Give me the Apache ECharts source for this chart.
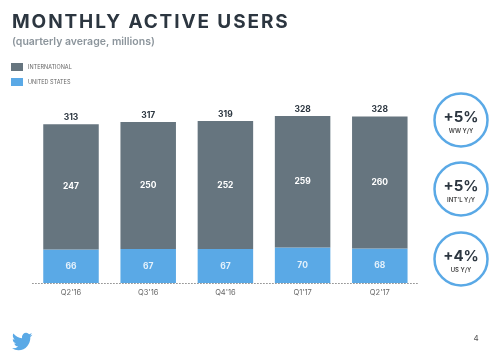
<!DOCTYPE html>
<html>
<head>
<meta charset="utf-8">
<title>Monthly Active Users</title>
<script src="https://cdn.jsdelivr.net/npm/echarts@6/dist/echarts.min.js"></script>
<style>
  html, body { margin: 0; padding: 0; background: #fff; }
  #main { position: absolute; left: 0; top: 0; width: 500px; height: 357px; }
  #head { position: absolute; left: 12px; top: 10px; font: 700 19px Inter, sans-serif; letter-spacing: 1.9px; color: #2c3640; white-space: nowrap; }
</style>
</head>
<body>
<div id="main"></div>
<div id="head">MONTHLY ACTIVE USERS</div>
<script>
const quarters = ["Q2'16", "Q3'16", "Q4'16", "Q1'17", "Q2'17"];
const international = [247, 250, 252, 259, 260];
const unitedStates = [66, 67, 67, 70, 68];
const totals = [313, 317, 319, 328, 328];
const growthValues = ['+5%', '+5%', '+4%'];
const growthLabels = ['WW Y/Y', "INT'L Y/Y", 'US Y/Y'];

const FONT = 'Inter, sans-serif';
const GREY = '#66757f';
const BLUE = '#5aa9e6';

const birdPath = 'M23.953 4.57a10 10 0 0 1-2.825.775a4.958 4.958 0 0 0 2.163-2.723c-.951.555-2.005.959-3.127 1.184a4.92 4.92 0 0 0-8.384 4.482C7.69 8.095 4.067 6.13 1.64 3.162a4.822 4.822 0 0 0-.666 2.475c0 1.71.87 3.213 2.188 4.096a4.904 4.904 0 0 1-2.228-.616v.06a4.923 4.923 0 0 0 3.946 4.827a4.996 4.996 0 0 1-2.212.085a4.936 4.936 0 0 0 4.604 3.417a9.867 9.867 0 0 1-6.102 2.105c-.39 0-.779-.023-1.17-.067a13.995 13.995 0 0 0 7.557 2.209c9.053 0 13.998-7.496 13.998-13.985c0-.21 0-.42-.015-.63A9.935 9.935 0 0 0 24 4.59z';
// graphic component has no plain path type, so register the logo as a shape
echarts.graphic.registerShape('bird', echarts.graphic.extendPath(birdPath, {}));

// circles on the right
const circleY = [120, 189, 259];
let badges = [];
circleY.forEach((y, i) => {
  badges.push({
    type: 'circle',
    shape: { cx: 461, cy: y, r: 26.5 },
    style: { fill: '#fff', stroke: BLUE, lineWidth: 2.5 }
  });
  badges.push({
    type: 'text', x: 461, y: y - 3,
    style: { text: growthValues[i], fill: '#2c3640', fontFamily: FONT, fontSize: 15, fontWeight: 700, align: 'center', verticalAlign: 'middle' }
  });
  badges.push({
    type: 'text', x: 461, y: y + 11,
    style: { text: growthLabels[i], fill: '#444', fontFamily: FONT, fontSize: 6, fontWeight: 600, align: 'center', verticalAlign: 'middle' }
  });
});

let myChart = echarts.init(document.getElementById('main'));
let option = {
  animation: false,
  backgroundColor: '#fff',
  title: {
    text: '(quarterly average, millions)',
    left: 12, top: 36, padding: 0,
    textStyle: { color: '#8c959c', fontFamily: FONT, fontSize: 10.5, fontWeight: 600 }
  },
  legend: {
    orient: 'vertical',
    left: 11, top: 63, padding: 0,
    itemWidth: 12, itemHeight: 8, itemGap: 7,
    icon: 'rect',
    data: ['INTERNATIONAL', 'UNITED STATES'],
    textStyle: { color: '#666', fontFamily: FONT, fontSize: 5.5 }
  },
  grid: { left: 32.4, width: 386, top: 80, height: 203 },
  xAxis: {
    type: 'category',
    data: quarters,
    axisTick: { show: false },
    axisLine: { lineStyle: { color: '#999', width: 1, type: [1, 2] } },
    axisLabel: { color: '#666', fontFamily: FONT, fontSize: 7.5, margin: 6 }
  },
  yAxis: { type: 'value', min: 0, max: 400, show: false },
  series: [
    {
      name: 'UNITED STATES', type: 'bar', stack: 'users', data: unitedStates,
      barWidth: 55.5, itemStyle: { color: BLUE },
      label: { show: true, position: 'inside', color: '#e4f1fb', fontFamily: FONT, fontSize: 8.5, fontWeight: 700 }
    },
    {
      name: 'INTERNATIONAL', type: 'bar', stack: 'users', data: international,
      barWidth: 55.5, itemStyle: { color: GREY },
      label: { show: true, position: 'inside', color: '#fff', fontFamily: FONT, fontSize: 8.5, fontWeight: 700 }
    },
    {
      name: 'Total', type: 'line', data: totals,
      symbol: 'circle', symbolSize: 1, itemStyle: { color: 'transparent' }, lineStyle: { width: 0, color: 'transparent' },
      label: { show: true, position: 'top', distance: 2, color: '#2c3640', fontFamily: FONT, fontSize: 8.5, fontWeight: 700 }
    }
  ],
  graphic: badges.concat([
    {
      type: 'bird', x: 12, y: 330.7, scaleX: 0.85, scaleY: 0.9,
      style: { fill: BLUE }
    },
    {
      type: 'text', x: 476, y: 339,
      style: { text: '4', fill: '#555', fontFamily: FONT, fontSize: 8, align: 'center', verticalAlign: 'middle' }
    }
  ])
};
myChart.setOption(option);
window.addEventListener('resize', () => { myChart.resize() });
</script>
</body>
</html>
